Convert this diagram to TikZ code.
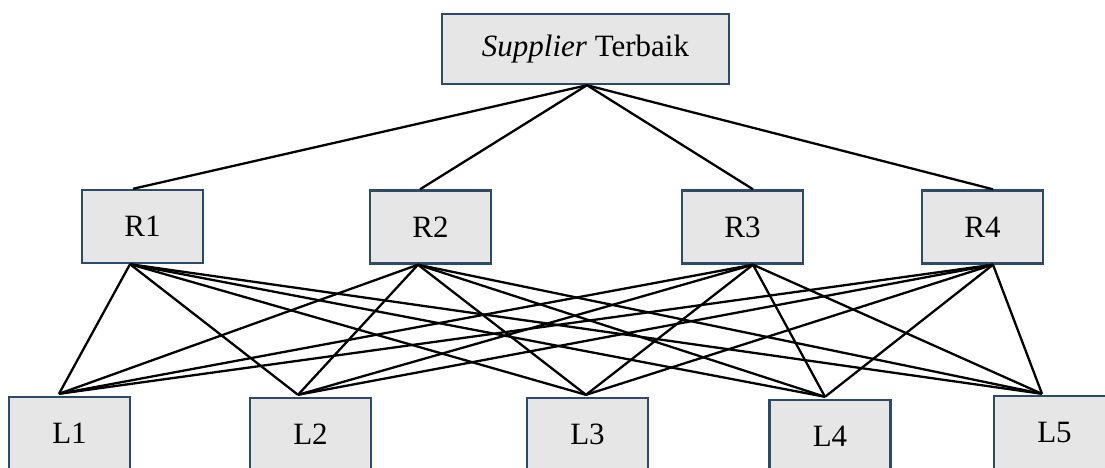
\documentclass[tikz,border=0pt]{standalone}
\usepackage{fontspec}
\setmainfont{Liberation Serif}
\definecolor{boxline}{RGB}{44,74,106}
\definecolor{boxfill}{RGB}{230,230,230}
\begin{document}
\begin{tikzpicture}[x=1pt,y=-1pt,
  boxnode/.style={draw=boxline, line width=2.4pt, fill=boxfill, inner sep=0pt,
    minimum width=121pt, minimum height=73pt, font=\fontsize{31}{36}\selectfont},
  link/.style={line width=2.3pt, black}]
\useasboundingbox (0,0) rectangle (1105,467);
\clip (0,0) rectangle (1105,467);
\node[boxnode, minimum width=287pt, minimum height=70pt] (top) at (585.5,49) {\textit{Supplier} Terbaik};
\node[boxnode] (R1) at (142.5,226.5) {R1};
\node[boxnode] (R2) at (430.5,227) {R2};
\node[boxnode] (R3) at (742.5,227) {R3};
\node[boxnode] (R4) at (982.5,227) {R4};
\node[boxnode] (L1) at (69.5,433.5) {L1};
\node[boxnode] (L2) at (310.5,434.5) {L2};
\node[boxnode] (L3) at (587.5,434.5) {L3};
\node[boxnode] (L4) at (830,436.5) {L4};
\node[boxnode] (L5) at (1054.5,432.5) {L5};
% attachment points
\coordinate (T) at ([xshift=1.5pt]top.south);
\coordinate (R1t) at ([xshift=-9.5pt]R1.north);
\coordinate (R2t) at ([xshift=-10.5pt]R2.north);
\coordinate (R3t) at ([xshift=10.5pt]R3.north);
\coordinate (R4t) at ([xshift=10.5pt]R4.north);
\coordinate (R1b) at ([xshift=-12.5pt]R1.south);
\coordinate (R2b) at ([xshift=-12.5pt]R2.south);
\coordinate (R3b) at ([xshift=10.5pt]R3.south);
\coordinate (R4b) at ([xshift=10.5pt]R4.south);
\coordinate (L1t) at ([xshift=-10.5pt,yshift=2pt]L1.north);
\coordinate (L2t) at ([xshift=-12.5pt,yshift=2pt]L2.north);
\coordinate (L3t) at ([xshift=-1.5pt,yshift=2pt]L3.north);
\coordinate (L4t) at ([xshift=-5pt,yshift=2pt]L4.north);
\coordinate (L5t) at ([xshift=-12.5pt,yshift=1pt]L5.north);
\foreach \r in {1,2,3,4} {
  \draw[link] (T) -- (R\r t);
  \foreach \l in {1,2,3,4,5} {
    \draw[link] (R\r b) -- (L\l t);
  }
}
\end{tikzpicture}
\end{document}
